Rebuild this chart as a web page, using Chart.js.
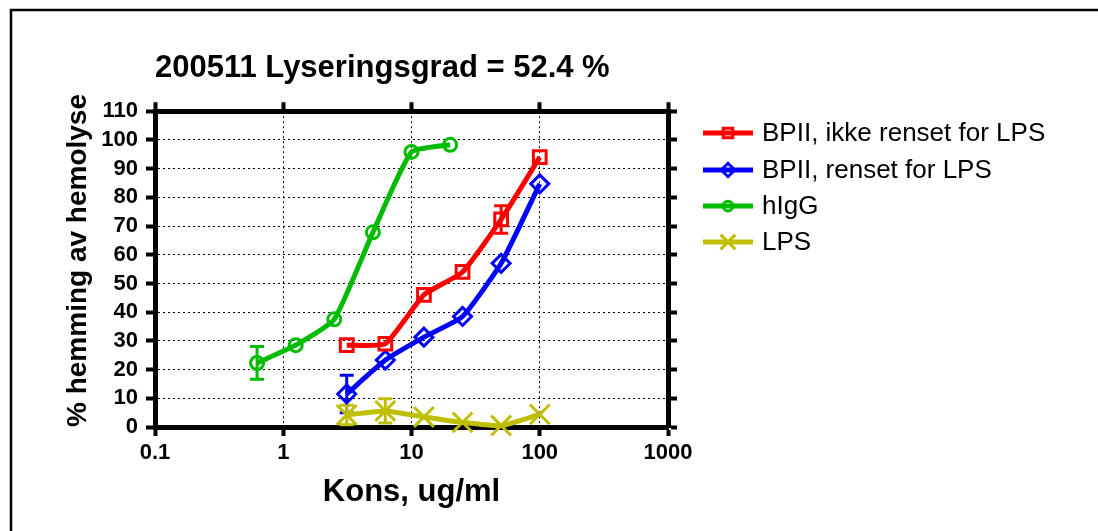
<!DOCTYPE html>
<html>
<head>
    <title>200511 Lyseringsgrad</title>
    <script src="https://cdn.jsdelivr.net/npm/chart.js"></script>
    <style>
        html, body { margin: 0; background: #fff; overflow: hidden; }
        canvas { display: block; }
    </style>
</head>
<body>

<canvas id="myChart" width="1098" height="531"></canvas>

<script>
    // concentrations, ug/ml
    var concBPI = [3.125, 6.25, 12.5, 25, 50, 100];
    var concIgG = [0.625, 1.25, 2.5, 5, 10, 20];

    // % hemming, with SD
    var bpiIkkeRenset = [28.5, 29, 46, 54, 72.3, 94];
    var bpiIkkeRensetSd = [0, 0, 0, 0, 4.8, 0];
    var bpiRenset = [11.5, 23.3, 31.3, 38.5, 57, 84.7];
    var bpiRensetSd = [6.5, 0, 0, 0, 0, 0];
    var higg = [22.3, 28.5, 37.5, 67.8, 95.8, 98.3];
    var higgSd = [5.7, 0, 0, 0, 0, 0];
    var lps = [4.2, 5.6, 3.5, 1.6, 0.5, 4.4];
    var lpsSd = [3.4, 4.2, 0, 0, 0, 0];

    var xTicks = [0.1, 1, 10, 100, 1000];
    var yTicks = [0, 10, 20, 30, 40, 50, 60, 70, 80, 90, 100, 110];

    Chart.defaults.font.family = '"Liberation Sans", Arial, sans-serif';
    Chart.defaults.color = '#000';

    function points(xs, ys) {
        return xs.map(function (x, i) { return { x: x, y: ys[i] }; });
    }

    function series(label, xs, ys, sd, color, style, radius) {
        return {
            label: label,
            data: points(xs, ys),
            errors: sd,
            borderColor: color,
            backgroundColor: color,
            borderWidth: 5,
            tension: 0.15,
            pointStyle: style,
            pointRadius: radius,
            pointBorderWidth: 3,
            pointBorderColor: color,
            pointBackgroundColor: 'rgba(0,0,0,0)',
            clip: false
        };
    }

    // hide the dotted grid line where it falls on the frame
    function innerGrid(ctx) {
        var n = ctx.scale.ticks.length;
        return (ctx.index === 0 || ctx.index === n - 1) ? 'rgba(0,0,0,0)' : '#000';
    }

    var tickFont = { size: 22, weight: 'bold' };

    var errorBars = {
        id: 'errorBars',
        beforeDatasetsDraw: function (chart) {
            var ctx = chart.ctx;
            var xs = chart.scales.x, ys = chart.scales.y;
            chart.data.datasets.forEach(function (ds) {
                ds.data.forEach(function (p, i) {
                    var sd = ds.errors[i];
                    if (!sd) return;
                    var px = xs.getPixelForValue(p.x);
                    var top = ys.getPixelForValue(p.y + sd);
                    var bot = ys.getPixelForValue(p.y - sd);
                    ctx.save();
                    ctx.strokeStyle = ds.borderColor;
                    ctx.lineWidth = 3;
                    ctx.beginPath();
                    ctx.moveTo(px, top); ctx.lineTo(px, bot);
                    ctx.moveTo(px - 7, top); ctx.lineTo(px + 7, top);
                    ctx.moveTo(px - 7, bot); ctx.lineTo(px + 7, bot);
                    ctx.stroke();
                    ctx.restore();
                });
            });
        }
    };

    var frameAndLegend = {
        id: 'frameAndLegend',
        beforeDraw: function (chart) {
            var ctx = chart.ctx;
            ctx.save();
            ctx.fillStyle = '#fff';
            ctx.fillRect(0, 0, chart.width, chart.height);
            ctx.strokeStyle = '#000';
            ctx.lineWidth = 2.5;
            ctx.beginPath();
            ctx.moveTo(11, chart.height + 5);
            ctx.lineTo(11, 10);
            ctx.lineTo(chart.width + 5, 10);
            ctx.stroke();
            ctx.restore();
        },
        afterDraw: function (chart) {
            var ctx = chart.ctx;
            var x0 = chart.chartArea.right + 35;
            var rowY = [133, 170, 206, 242];
            ctx.save();
            chart.data.datasets.forEach(function (ds, i) {
                var y = rowY[i];
                ctx.strokeStyle = ds.borderColor;
                ctx.lineWidth = 5;
                ctx.beginPath();
                ctx.moveTo(x0, y);
                ctx.lineTo(x0 + 50, y);
                ctx.stroke();
                ctx.lineWidth = 3;
                ctx.fillStyle = 'rgba(0,0,0,0)';
                Chart.helpers.drawPoint(ctx, {
                    pointStyle: ds.pointStyle,
                    radius: ds.pointRadius * 0.75,
                    rotation: 0,
                    borderWidth: 3
                }, x0 + 25, y);
                ctx.fillStyle = '#000';
                ctx.font = '26px "Liberation Sans", Arial, sans-serif';
                ctx.textBaseline = 'middle';
                ctx.fillText(ds.label, x0 + 59, y + 1);
            });
            ctx.restore();
        }
    };

    var ctx = document.getElementById('myChart').getContext('2d');
    var myChart = new Chart(ctx, {
        type: 'line',
        data: {
            datasets: [
                series('BPII, ikke renset for LPS', concBPI, bpiIkkeRenset, bpiIkkeRensetSd, '#ff0000', 'rect', 9),
                series('BPII, renset for LPS', concBPI, bpiRenset, bpiRensetSd, '#0000ff', 'rectRot', 9),
                series('hIgG', concIgG, higg, higgSd, '#00bb00', 'circle', 6.5),
                series('LPS', concBPI, lps, lpsSd, '#bfbf00', 'crossRot', 14)
            ]
        },
        options: {
            responsive: false,
            animation: false,
            layout: { padding: { left: 0, top: 20, right: 418, bottom: 0 } },
            plugins: {
                legend: { display: false },
                tooltip: { enabled: false },
                title: {
                    display: true,
                    text: '200511 Lyseringsgrad = 52.4 %',
                    fullSize: false,
                    align: 'start',
                    color: '#000',
                    font: { size: 31, weight: 'bold' },
                    padding: { top: 30, bottom: 8 }
                }
            },
            scales: {
                x: {
                    type: 'logarithmic',
                    position: 'bottom',
                    min: 0.1,
                    max: 1000,
                    afterBuildTicks: function (s) { s.ticks = xTicks.map(function (v) { return { value: v }; }); },
                    afterFit: function (s) { s.height = 104; },
                    ticks: {
                        font: tickFont,
                        padding: 4,
                        maxRotation: 0,
                        autoSkip: false,
                        callback: function (v) { return String(v); }
                    },
                    grid: { color: innerGrid, lineWidth: 1, tickColor: '#000', tickWidth: 4, tickLength: 9 },
                    border: { display: true, color: '#000', width: 5, dash: [2, 3] },
                    title: {
                        display: true,
                        text: 'Kons, ug/ml',
                        font: { size: 31, weight: 'bold' },
                        padding: { top: 0, bottom: 20 }
                    }
                },
                x2: {
                    type: 'logarithmic',
                    position: 'top',
                    min: 0.1,
                    max: 1000,
                    afterBuildTicks: function (s) { s.ticks = xTicks.map(function (v) { return { value: v }; }); },
                    afterFit: function (s) { s.height = 16; },
                    ticks: { display: false },
                    grid: { drawOnChartArea: false, tickColor: '#000', tickWidth: 4, tickLength: 9 },
                    border: { display: true, color: '#000', width: 5 }
                },
                y: {
                    type: 'linear',
                    position: 'left',
                    min: 0,
                    max: 110,
                    afterBuildTicks: function (s) { s.ticks = yTicks.map(function (v) { return { value: v }; }); },
                    afterFit: function (s) { s.width = 155; },
                    ticks: { font: tickFont, padding: 8, autoSkip: false },
                    grid: { color: innerGrid, lineWidth: 1, tickColor: '#000', tickWidth: 4, tickLength: 9 },
                    border: { display: true, color: '#000', width: 5, dash: [2, 3] },
                    title: {
                        display: true,
                        text: '% hemming av hemolyse',
                        align: 'start',
                        font: { size: 28, weight: 'bold' },
                        padding: { top: 61, bottom: 0 }
                    }
                },
                y2: {
                    type: 'linear',
                    position: 'right',
                    min: 0,
                    max: 110,
                    afterBuildTicks: function (s) { s.ticks = yTicks.map(function (v) { return { value: v }; }); },
                    afterFit: function (s) { s.width = 12; },
                    ticks: { display: false, autoSkip: false },
                    grid: { drawOnChartArea: false, tickColor: '#000', tickWidth: 4, tickLength: 9 },
                    border: { display: true, color: '#000', width: 5 }
                }
            }
        },
        plugins: [frameAndLegend, errorBars]
    });
</script>

</body>
</html>
